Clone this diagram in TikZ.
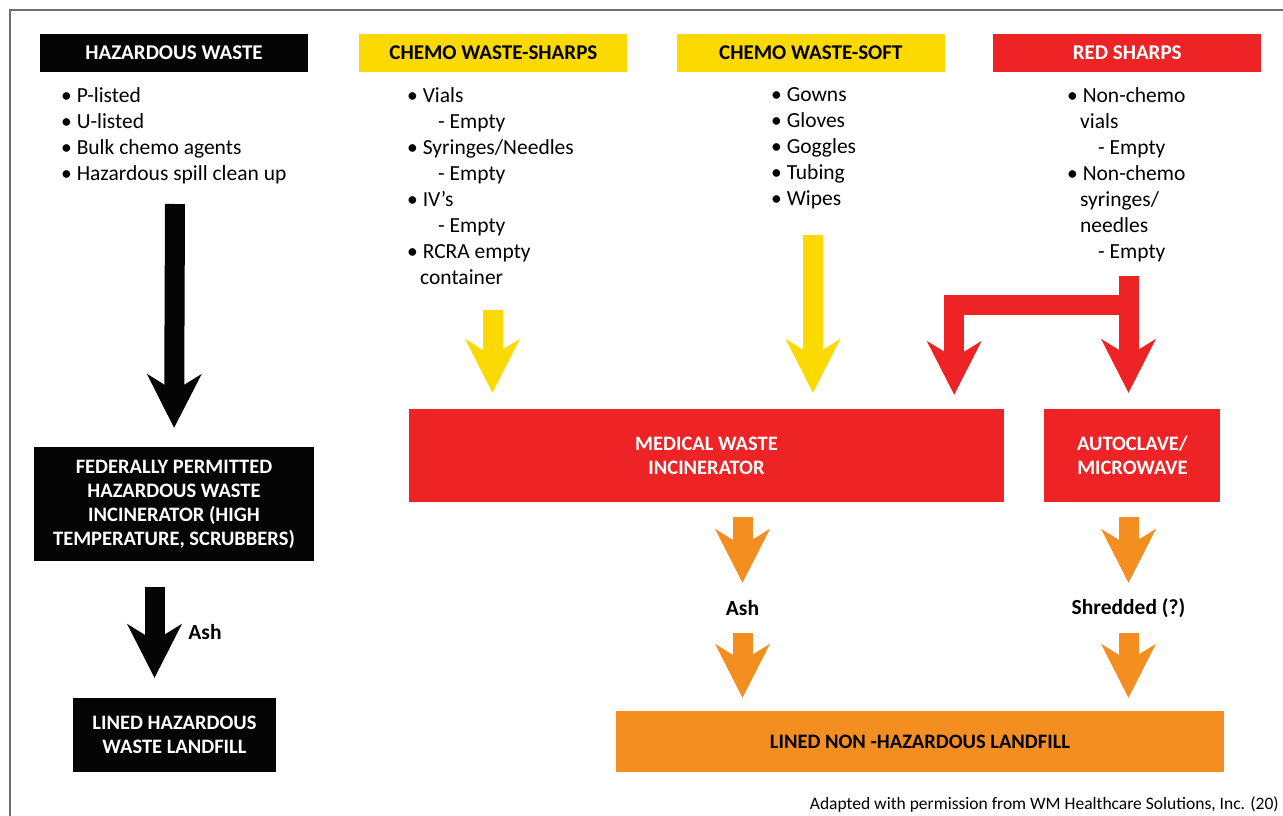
\documentclass[tikz,border=0pt]{standalone}
\usepackage{fontspec}
\setmainfont{Carlito}
\usetikzlibrary{positioning,arrows.meta}
\definecolor{wmred}{HTML}{EE2326}
\definecolor{wmyellow}{HTML}{FCD900}
\definecolor{wmorange}{HTML}{F58E21}
\definecolor{wmblack}{HTML}{050505}
\definecolor{framegray}{HTML}{6E6E6E}
\newcommand{\itm}{\textbullet\ }
\newcommand{\subitm}[1]{\hspace*{31pt}- #1}
\newcommand{\contd}{\hspace*{13pt}}
\tikzset{
  hdr/.style={minimum width=268pt,minimum height=38pt,inner sep=0pt,font=\fontsize{21}{24}\selectfont\bfseries},
  box/.style={inner sep=0pt,align=center,font=\fontsize{20.5}{24}\selectfont\bfseries},
  lst/.style={anchor=north west,inner sep=0pt,align=left,font=\fontsize{21.5}{26}\selectfont},
  lbl/.style={inner sep=0pt,minimum height=30pt,font=\fontsize{21.5}{24}\selectfont\bfseries},
  fat/.style={line width=20pt,-{Stealth[length=54pt,width=55pt,inset=17pt,line width=0pt]}},
}

\begin{document}
\begin{tikzpicture}[x=1pt,y=-1pt,node distance=49pt]
  \useasboundingbox (0,0) rectangle (1283,816);
  \draw[framegray,line width=1.5pt] (10,816) -- (10,10) -- (1283,10);

  % four waste streams
  \node[hdr,fill=wmblack,text=white] (haz) at (174,53) {HAZARDOUS WASTE};
  \node[hdr,fill=wmyellow,right=51pt of haz] (sharps) {CHEMO WASTE-SHARPS};
  \node[hdr,fill=wmyellow,right=49pt of sharps] (soft) {CHEMO WASTE-SOFT};
  \node[hdr,fill=wmred,text=white,right=48pt of soft] (redsh) {RED SHARPS};

  \node[lst] (hazlist) at (61,87) {\itm P-listed\\ \itm U-listed\\ \itm Bulk chemo agents\\ \itm Hazardous spill clean up};
  \node[lst] (sharplist) at (407,87) {\itm Vials\\ \subitm{Empty}\\ \itm Syringes/Needles\\ \subitm{Empty}\\ \itm IV’s\\ \subitm{Empty}\\ \itm RCRA empty\\ \contd container};
  \node[lst] (softlist) at (771,87) {\itm Gowns\\ \itm Gloves\\ \itm Goggles\\ \itm Tubing\\ \itm Wipes};
  \node[lst] (redlist) at (1067,87) {\itm Non-chemo\\ \contd vials\\ \subitm{Empty}\\ \itm Non-chemo\\ \contd syringes/\\ \contd needles\\ \subitm{Empty}};

  % treatment
  \node[box,fill=wmblack,text=white,minimum width=280pt,minimum height=114pt] (fed) at (174,504) {FEDERALLY PERMITTED\\ HAZARDOUS WASTE\\ INCINERATOR (HIGH\\ TEMPERATURE, SCRUBBERS)};
  \node[box,fill=wmred,text=white,minimum width=595pt,minimum height=93pt] (medinc) at (706.5,455.5) {MEDICAL WASTE\\ INCINERATOR};
  \node[box,fill=wmred,text=white,minimum width=176pt,minimum height=93pt,right=40pt of medinc] (auto) {AUTOCLAVE/\\ MICROWAVE};

  % disposal
  \node[box,fill=wmblack,text=white,minimum width=203pt,minimum height=74pt] (landhaz) at (174.5,735) {LINED HAZARDOUS\\ WASTE LANDFILL};
  \node[box,fill=wmorange,minimum width=608pt,minimum height=61pt] (landfill) at (920,741.5) {LINED NON -HAZARDOUS LANDFILL};

  \node[lbl] (ash1) at (205,632) {Ash};
  \node[lbl] (ash2) at (742.5,608) {Ash};
  \node[lbl] (shred) at (1128.5,608) {Shredded (?)};

  \node[anchor=east,inner sep=0pt,font=\fontsize{17.5}{20}\selectfont] (src) at (1279,805) {Adapted with permission from WM Healthcare Solutions, Inc. (20)};

  % arrows
  \coordinate (a1) at (175,204);
  \coordinate (a2) at (154.5,587);
  \coordinate (y1) at (492.5,310);
  \coordinate (y2) at (813,235);
  \coordinate (rtop) at (1128.5,276);
  \coordinate (rsplit) at (1128.5,305);
  \draw[fat,wmblack,shorten >=19pt] (a1) -- (fed.north);
  \draw[fat,wmblack,shorten >=20pt] (a2) -- (a2 |- landhaz.north);
  \draw[fat,wmyellow,shorten >=16pt] (y1) -- (y1 |- medinc.north);
  \draw[fat,wmyellow,shorten >=16pt] (y2) -- (y2 |- medinc.north);
  \draw[fat,wmred,shorten >=16pt] (rtop) -- (rtop |- auto.north);
  \draw[fat,wmred,shorten >=14pt] (rsplit) -| ([xshift=-50pt]medinc.north east);
  \draw[fat,wmorange,shorten <=15pt,shorten >=10pt] (ash2 |- medinc.south) -- (ash2.north);
  \draw[fat,wmorange,shorten <=10pt,shorten >=13pt] (ash2.south) -- (ash2 |- landfill.north);
  \draw[fat,wmorange,shorten <=15pt,shorten >=10pt] (shred |- auto.south) -- (shred.north);
  \draw[fat,wmorange,shorten <=10pt,shorten >=13pt] (shred.south) -- (shred |- landfill.north);
\end{tikzpicture}
\end{document}
